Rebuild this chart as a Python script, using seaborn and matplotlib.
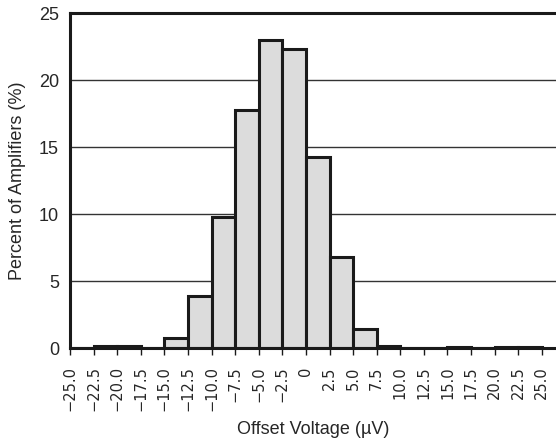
import matplotlib
matplotlib.use("Agg")
import matplotlib.pyplot as plt
import seaborn as sns
import pandas as pd

# bin edges (uV) and percent of amplifiers in each bin
bin_edges = [-25.0, -22.5, -20.0, -17.5, -15.0, -12.5, -10.0, -7.5, -5.0, -2.5, 0.0,
             2.5, 5.0, 7.5, 10.0, 12.5, 15.0, 17.5, 20.0, 22.5, 25.0]
percent = [0.0, 0.15, 0.15, 0.0, 0.75, 3.9, 9.8, 17.8, 23.0, 22.3,
           14.3, 6.8, 1.45, 0.2, 0.0, 0.0, 0.1, 0.0, 0.1, 0.1]
tick_labels = ["\u221225.0", "\u221222.5", "\u221220.0", "\u221217.5", "\u221215.0",
               "\u221212.5", "\u221210.0", "\u22127.5", "\u22125.0", "\u22122.5", "0",
               "2.5", "5.0", "7.5", "10.0", "12.5", "15.0", "17.5", "20.0", "22.5", "25.0"]
y_ticks = [0, 5, 10, 15, 20, 25]

sns.set_style("white")
plt.rcParams["font.family"] = ["Liberation Sans", "DejaVu Sans"]

df = pd.DataFrame({
    "voltage": [(a + b) / 2 for a, b in zip(bin_edges[:-1], bin_edges[1:])],
    "percent": percent,
})

fig = plt.figure(figsize=(5.56, 4.41), dpi=100)
ax = fig.add_axes([0.1259, 0.2102, 0.8741, 0.7596])

for y in y_ticks[1:-1]:
    ax.axhline(y, color="#333333", lw=1.0, zorder=0)

sns.histplot(data=df, x="voltage", weights="percent", bins=bin_edges,
             color="#dcdcdc", edgecolor="#1a1a1a", linewidth=2.2, alpha=1.0,
             ax=ax, zorder=2)

ax.set_xlim(-25, 26.5)
ax.set_ylim(0, 25)
ax.set_xticks(bin_edges)
ax.set_xticklabels(tick_labels, rotation=90, fontsize=10.5, family="DejaVu Sans")
ax.set_yticks(y_ticks)
ax.set_yticklabels([str(v) for v in y_ticks], fontsize=13)
ax.tick_params(axis="x", direction="out", length=5, width=1.0, color="#1a1a1a",
               pad=8, bottom=True)
ax.tick_params(axis="y", length=0, pad=8)

for side in ["left", "bottom", "top"]:
    ax.spines[side].set_linewidth(2.2)
    ax.spines[side].set_color("#1a1a1a")
ax.spines["right"].set_visible(False)

ax.set_xlabel("Offset Voltage (\u00b5V)", fontsize=13, labelpad=7)
ax.set_ylabel("Percent of Amplifiers (%)", fontsize=13, labelpad=9)

fig.savefig("out.png", dpi=100)
